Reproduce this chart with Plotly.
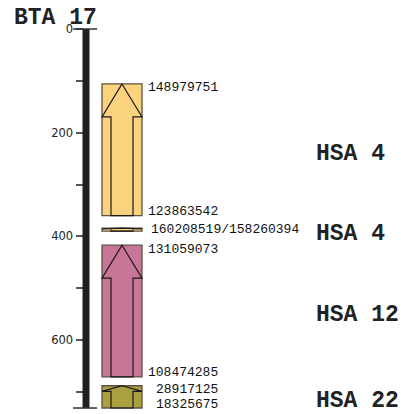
import plotly.graph_objects as go

# ---- data ----
chrom_name = "BTA 17"
chrom_length = 731
tick_values = [0, 200, 400, 600]
tick_labels = ["0", "200", "400", "600"]
minor_step = 100

seg_start = [106, 384, 417, 688]
seg_end = [360, 390, 671, 731]
seg_top_label = ["148979751", "", "131059073", "28917125"]
seg_bottom_label = ["123863542", "", "108474285", "18325675"]
seg_mid_label = ["", "160208519/158260394", "", ""]
seg_hsa = ["HSA 4", "HSA 4", "HSA 12", "HSA 22"]
seg_color = ["#FBD37F", "#FBD37F", "#C87597", "#AAA03F"]

# ---- layout constants (page-pixel x coordinates) ----
W, H = 401, 414
bar_x0, bar_x1 = 82.5, 89.5
box_x0, box_x1 = 102, 142
shaft_x0, shaft_x1 = 111, 133
label_x = 149
label_right_x = 220
hsa_x = 314
px_per_unit = 0.5185
top_px = 29
y_min = -top_px / px_per_unit
y_max = y_min + H / px_per_unit

mono = "Courier New, Liberation Mono, monospace"

fig = go.Figure()
fig.add_trace(go.Scatter(x=[0], y=[0], mode="markers", marker=dict(opacity=0),
                         hoverinfo="skip", showlegend=False))

shapes = []
annotations = []

# chromosome bar
shapes.append(dict(type="rect", xref="x", yref="y", x0=bar_x0, x1=bar_x1, y0=0, y1=chrom_length,
                   fillcolor="#231F20", line=dict(width=0), layer="above"))
for v in [0, chrom_length]:
    shapes.append(dict(type="line", xref="x", yref="y", x0=73, x1=97, y0=v, y1=v,
                       line=dict(color="#333333", width=1.5), layer="above"))

for s, e, c, tl, bl, ml, hsa in zip(seg_start, seg_end, seg_color, seg_top_label,
                                     seg_bottom_label, seg_mid_label, seg_hsa):
    length = e - s
    shapes.append(dict(type="rect", xref="x", yref="y", x0=box_x0, x1=box_x1, y0=s, y1=e,
                       fillcolor=c, line=dict(color="#5E5040", width=1.3), layer="above"))
    head = min(75, 0.25 * length)
    cx = (box_x0 + box_x1) / 2
    hb = s + head
    path = (f"M {cx},{s} L {box_x1},{hb} L {shaft_x1},{hb} L {shaft_x1},{e} "
            f"L {shaft_x0},{e} L {shaft_x0},{hb} L {box_x0},{hb} Z")
    shapes.append(dict(type="path", xref="x", yref="y", path=path,
                       line=dict(color="#1A1A1A", width=1.2), layer="above"))
    if tl:
        annotations.append(dict(x=label_right_x, y=s, xref="x", yref="y", text=tl, showarrow=False,
                                xanchor="right", yanchor="middle", yshift=-4,
                                font=dict(family=mono, size=13, color="#111")))
    if bl:
        annotations.append(dict(x=label_right_x, y=e, xref="x", yref="y", text=bl, showarrow=False,
                                xanchor="right", yanchor="middle", yshift=4,
                                font=dict(family=mono, size=13, color="#111")))
    if ml:
        annotations.append(dict(x=label_x, y=(s + e) / 2, xref="x", yref="y", text=ml, showarrow=False,
                                xanchor="left", yanchor="middle",
                                font=dict(family=mono, size=13, color="#111")))
    annotations.append(dict(x=hsa_x, y=(s + e) / 2, xref="x", yref="y", text=f"<b>{hsa}</b>",
                            showarrow=False, xanchor="left", yanchor="middle", yshift=-4,
                            font=dict(family=mono, size=23, color="#222")))

annotations.append(dict(x=12, y=(18 - top_px) / px_per_unit, xref="x", yref="y",
                        text=f"<b>{chrom_name}</b>",
                        showarrow=False, xanchor="left", yanchor="middle",
                        font=dict(family=mono, size=23, color="#222")))

fig.update_layout(
    width=W, height=H, margin=dict(l=0, r=0, t=0, b=0),
    paper_bgcolor="white", plot_bgcolor="white",
    xaxis=dict(range=[0, W], visible=False, domain=[0, 1], fixedrange=True),
    yaxis=dict(range=[y_max, y_min], anchor="free", position=bar_x0 / W, side="left",
               showgrid=False, zeroline=False, showline=False, fixedrange=True,
               tickmode="array", tickvals=tick_values, ticktext=tick_labels,
               ticks="outside", ticklen=7, tickwidth=1.5, tickcolor="#555",
               tickfont=dict(family="DejaVu Sans", size=11.5, color="#222"),
               minor=dict(tickmode="linear", tick0=0, dtick=minor_step, ticks="outside",
                          ticklen=7, tickwidth=1.5, tickcolor="#555"),
               automargin=False),
    shapes=shapes, annotations=annotations, showlegend=False,
)

fig.write_html(
    "out.html",
    config={"displayModeBar": False},
    post_script="document.body.style.margin='0';document.documentElement.style.overflow='hidden';document.body.style.overflow='hidden';",
)
